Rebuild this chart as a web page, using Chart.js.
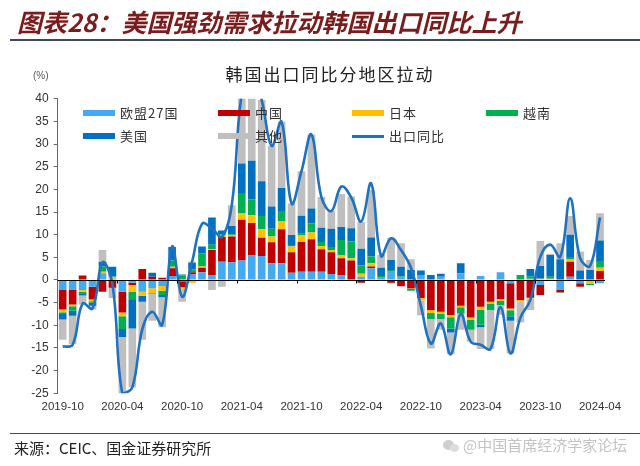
<!DOCTYPE html>
<html><head><meta charset="utf-8">
<script src="https://cdn.jsdelivr.net/npm/chart.js@4.4.1/dist/chart.umd.min.js"></script>
<style>
html,body{margin:0;padding:0;background:#fff;}
#wrap{position:relative;width:640px;height:466px;overflow:hidden;font-family:"Noto Sans CJK SC","Noto Sans",sans-serif;}
#c{position:absolute;left:0;top:0;}
.hdr{position:absolute;left:17px;top:4px;font-size:25px;line-height:34px;font-weight:bold;font-style:italic;color:#7b1c1c;white-space:nowrap;}
.rule{position:absolute;left:10px;width:630px;height:1.5px;background:#3d4b5c;}
.sub{position:absolute;left:130px;width:400px;top:62px;text-align:center;font-size:17px;line-height:24px;letter-spacing:2px;color:#222;white-space:nowrap;}
.unit{position:absolute;left:33px;top:69px;font-size:10px;line-height:14px;color:#555;font-family:"Liberation Sans",Arial,sans-serif;}
.lg{position:absolute;font-size:13px;line-height:16px;letter-spacing:1px;color:#333;white-space:nowrap;}
.sw{position:absolute;width:32px;}
.src{position:absolute;left:14px;top:438px;font-size:15px;line-height:20px;color:#222;white-space:nowrap;}
.wm{position:absolute;left:463px;top:435px;font-size:15px;line-height:20px;color:#c4c4c4;white-space:nowrap;}
.ic{position:absolute;border-radius:50%;background:#cfcfcf;}
</style></head>
<body>
<div id="wrap">
  <canvas id="c" width="640" height="466"></canvas>
  <div class="hdr">图表28：美国强劲需求拉动韩国出口同比上升</div>
  <div class="rule" style="top:39px"></div>
  <div class="sub">韩国出口同比分地区拉动</div>
  <div class="unit">(%)</div>
  <div id="legend"></div>
  <div class="rule" style="top:432.5px"></div>
  <div class="src">来源：CEIC、国金证券研究所</div>
  <div class="ic" style="left:443px;top:440px;width:11px;height:10px;"></div>
  <div class="ic" style="left:450px;top:444px;width:9px;height:8px;background:#dcdcdc"></div>
  <div class="wm">@中国首席经济学家论坛</div>
</div>
<script>
const months = ["2019-10","2019-11","2019-12","2020-01","2020-02","2020-03","2020-04","2020-05","2020-06","2020-07","2020-08","2020-09",
"2020-10","2020-11","2020-12","2021-01","2021-02","2021-03","2021-04","2021-05","2021-06","2021-07","2021-08","2021-09",
"2021-10","2021-11","2021-12","2022-01","2022-02","2022-03","2022-04","2022-05","2022-06","2022-07","2022-08","2022-09",
"2022-10","2022-11","2022-12","2023-01","2023-02","2023-03","2023-04","2023-05","2023-06","2023-07","2023-08","2023-09",
"2023-10","2023-11","2023-12","2024-01","2024-02","2024-03","2024-04"];

const eu27 = [-2.1,-2.2,-2.2,-1.5,1.5,0.3,-2.6,-0.6,-2.6,-1.8,-1.3,0.9,
-0.3,1.2,1.7,1.1,4.0,3.9,4.3,5.5,5.3,3.7,3.7,1.6,
1.8,1.8,1.8,1.3,1.1,0,0.7,2.6,0.5,1.8,0.7,0,
1.1,0,0.7,0,1.5,0,0.9,0,1.7,-0.7,0,0.3,
-1.1,0,-2.2,0.7,-0.7,0,-0.7];

const china = [-4.4,-3.2,1.0,-2.8,-2.6,-1.7,-4.6,-0.5,2.4,0.7,0.5,1.7,
-1.3,0.5,1.0,5.5,5.5,5.7,9.0,7.1,4.0,4.6,7.5,4.5,
6.6,7.2,5.0,4.8,3.7,4.3,-0.6,0.4,-0.2,-0.6,-1.4,-1.8,
-4.0,-6.6,-7.0,-7.7,-5.7,-8.3,-5.9,-4.8,-4.2,-5.6,-4.4,-3.9,
-2.2,0,-0.5,3.3,-0.8,0,2.0];

const japan = [-0.6,-0.4,-0.4,-0.4,0.3,0.4,-0.8,-1.5,-0.9,-1.1,-1.1,0.3,
-0.6,-0.6,0.3,0.2,0.3,0.2,1.5,1.7,1.9,1.3,1.8,1.3,
1.5,1.5,0.7,0.5,0.7,0.5,0.7,0.7,0,-0.2,0,-0.1,
-0.5,-0.7,-0.5,-0.5,-0.3,-0.5,-0.7,-0.4,-0.4,-0.4,-0.4,-0.2,
0.3,0.3,0,0.5,0,-0.8,0.7];

const vietnam = [-0.4,-1.0,-0.5,-0.3,1.2,0,-2.8,-1.8,0,-0.2,-0.9,1.4,
1.0,0.6,2.9,1.0,0.3,0.3,4.4,3.5,2.9,1.7,2.2,0.3,
0.3,2.0,0.9,0.7,3.3,3.7,1.8,1.5,0.4,0.4,0.2,-0.5,
0,-1.3,-1.1,-2.5,-1.4,-2.2,-3.3,-1.4,-1.0,-1.3,1.1,0.5,
0,0.4,-0.1,0.6,0.2,-0.3,1.5];

const usa = [-1.2,-1.1,-0.3,-0.7,1.0,2.2,-1.8,-6.3,-1.3,0.9,-0.5,3.0,
0.2,1.5,1.5,6.0,0.8,1.8,6.5,8.5,7.7,4.9,5.1,2.2,
4.0,3.3,3.1,4.0,2.9,2.9,3.7,4.2,1.8,2.2,2.0,2.2,
1.0,1.1,0.7,-0.9,2.2,0,-0.5,0,0,-1.0,0,1.6,
2.8,4.8,4.6,4.9,1.9,2.2,4.5];

const others = [-4.5,-6.3,-2.0,-0.8,2.6,-2.3,-12.6,-13.0,-8.4,-5.9,-6.6,0,
-2.6,0.3,0,-2.2,-1.5,4.6,15.4,19.3,17.9,13.4,14.6,7.0,
9.8,16.3,6.8,3.9,7.3,7.0,5.9,10.5,2.8,4.9,5.2,2.4,
-3.3,-6.5,-2.4,-4.8,-3.6,-2.6,-4.8,-8.6,-2.1,-7.2,-4.6,-2.5,
5.5,0.3,3.5,4.1,4.2,2.2,6.0];

const exportYoY = [-14.7,-14.3,-5.2,-6.3,3.9,-0.9,-25.1,-23.7,-10.9,-7.0,-9.9,7.4,
-3.7,4.0,12.4,11.4,9.5,16.6,41.1,45.6,39.7,29.6,34.9,16.9,
24.0,32.1,18.3,15.2,20.6,18.2,12.9,21.3,5.3,9.2,6.6,2.7,
-5.7,-14.0,-9.6,-16.4,-7.5,-13.6,-14.3,-15.2,-6.0,-16.2,-8.3,-4.4,
5.1,7.8,5.1,18.0,4.8,3.1,13.8];

const seriesNames = ["欧盟27国","中国","日本","越南","美国","其他","出口同比"];
const seriesColors = ["#45aaf2","#c00000","#ffc000","#00b050","#0070c0","#bfbfbf","#1f71c1"];
const barSeries = [eu27, china, japan, vietnam, usa, others];
const yTicks = {min:-25, max:40, step:5};
const labelEvery = 6;

// HTML legend built from the names/colors
(function(){
  const colX = [83,218,352,486], rowY = [113,136];
  const lg = document.getElementById('legend');
  seriesNames.forEach((n,i)=>{
    const r = i<4?0:1, c = i<4?i:i-4;
    const sw = document.createElement('div');
    sw.className='sw';
    const h = i===6?3:6;
    sw.style.cssText=`left:${colX[c]}px;top:${rowY[r]-h/2}px;height:${h}px;background:${seriesColors[i]}`;
    lg.appendChild(sw);
    const t = document.createElement('div');
    t.className='lg';
    t.textContent=n;
    t.style.left=(colX[c]+37)+'px';
    t.style.top=(rowY[r]-8)+'px';
    lg.appendChild(t);
  });
})();

const zeroLine = {
  id:'zeroLine',
  afterDatasetDraw(chart,args){
    if(args.index!==0) return;
    const {ctx, chartArea, scales:{x,y}} = chart;
    const y0 = Math.round(y.getPixelForValue(0))+0.5;
    ctx.save();
    ctx.strokeStyle='#000'; ctx.lineWidth=1;
    ctx.beginPath(); ctx.moveTo(chartArea.left,y0); ctx.lineTo(chartArea.right,y0); ctx.stroke();
    ctx.beginPath();
    for(let k=labelEvery;k<months.length;k+=labelEvery){
      const px = Math.round((x.getPixelForValue(k-1)+x.getPixelForValue(k))/2)+0.5;
      ctx.moveTo(px,y0); ctx.lineTo(px,y0+3);
    }
    ctx.stroke();
    ctx.restore();
  }
};

const datasets = barSeries.map((d,i)=>({
  type:'bar', label:seriesNames[i], data:d, backgroundColor:seriesColors[i],
  borderWidth:0, stack:'bars', order:0, categoryPercentage:1, barPercentage:0.77
}));
datasets.unshift({
  type:'line', label:seriesNames[6], data:exportYoY, borderColor:seriesColors[6],
  borderWidth:2.6, pointRadius:0, tension:0.4, fill:false, stack:'line', order:-1
});

new Chart(document.getElementById('c'),{
  type:'bar',
  data:{labels:months, datasets},
  options:{
    responsive:false, animation:false, devicePixelRatio:1,
    layout:{padding:{left:0,right:35,top:98.7,bottom:0}},
    plugins:{legend:{display:false}, tooltip:{enabled:false}, title:{display:false}},
    scales:{
      x:{stacked:true, offset:true,
        grid:{display:false, drawTicks:false}, border:{display:false},
        ticks:{autoSkip:false, maxRotation:0, minRotation:0, padding:7, color:'#333',
          font:{size:11.5, family:'"Liberation Sans", Arial, sans-serif'},
          callback:(v,i)=> i%labelEvery===0 ? months[i] : ''},
        afterFit:s=>{ s.height = 72.7; }
      },
      y:{stacked:true, min:yTicks.min, max:yTicks.max,
        ticks:{stepSize:yTicks.step, padding:5, color:'#333',
          font:{size:12, family:'"Liberation Sans", Arial, sans-serif'}},
        grid:{drawOnChartArea:false, drawTicks:true, tickLength:4, color:'#666'},
        border:{display:true, color:'#666'},
        afterFit:s=>{ s.width = 57.7; }
      }
    }
  },
  plugins:[zeroLine]
});
</script>
</body></html>
